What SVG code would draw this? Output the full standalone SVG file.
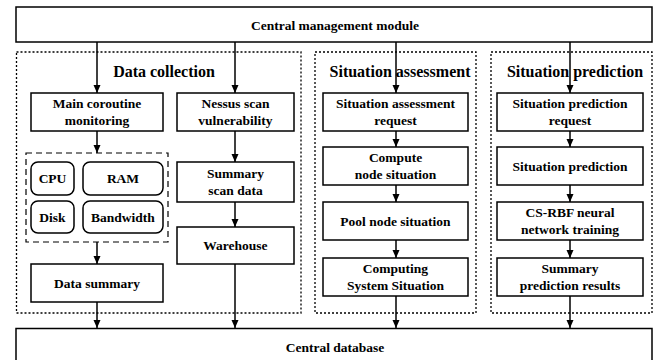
<svg xmlns="http://www.w3.org/2000/svg" width="654" height="360" viewBox="0 0 654 360">
<defs>
<marker id="ah" viewBox="0 0 8 8" refX="8" refY="4" markerWidth="8" markerHeight="8" markerUnits="userSpaceOnUse" orient="auto">
<path d="M0,0.5 L8,4 L0,7.5 Z" fill="#000"/>
</marker>
</defs>
<style>
text{font-family:"Liberation Serif","Times New Roman",serif;font-weight:bold;fill:#000;text-anchor:middle}
.t{font-size:13.5px}
.h{font-size:16px}
.b{fill:#fff;stroke:#000;stroke-width:1.5}
.r{fill:#fff;stroke:#000;stroke-width:1.5}
.dot{fill:none;stroke:#000;stroke-width:1.3;stroke-dasharray:2 2}
.dash{fill:none;stroke:#000;stroke-width:1.2;stroke-dasharray:6 4}
.c{stroke:#000;stroke-width:1.5;fill:none;marker-end:url(#ah)}
</style>
<rect width="654" height="360" fill="#fff"/>

<g id="groups">
<rect id="g-data" class="dot" x="16.5" y="52" width="284.5" height="261"/>
<rect id="g-assess" class="dot" x="315" y="52" width="161" height="261"/>
<rect id="g-pred" class="dot" x="491" y="52" width="161" height="261"/>
<text class="h" x="164" y="77">Data collection</text>
<text class="h" x="400" y="77">Situation assessment</text>
<text class="h" x="575" y="77">Situation prediction</text>
<rect id="g-res" class="dash" x="26" y="153" width="142" height="89"/>
</g>

<g id="top"><rect class="b" x="16" y="7" width="636" height="35"/><text class="t" x="335" y="30">Central management module</text></g>
<g id="db"><rect class="b" x="16" y="328.5" width="636" height="40"/><text class="t" x="335" y="352">Central database</text></g>

<g id="main"><rect class="b" x="31" y="93" width="132" height="38"/><text class="t" x="97" y="108">Main coroutine</text><text class="t" x="97" y="125">monitoring</text></g>
<g id="nessus"><rect class="b" x="177" y="93" width="117" height="38"/><text class="t" x="235.5" y="108">Nessus scan</text><text class="t" x="235.5" y="125">vulnerability</text></g>
<g id="cpu"><rect class="r" x="31" y="162" width="43" height="33" rx="7"/><text class="t" x="52.5" y="183">CPU</text></g>
<g id="ram"><rect class="r" x="83" y="162" width="80" height="33" rx="7"/><text class="t" x="123" y="183">RAM</text></g>
<g id="disk"><rect class="r" x="31" y="201" width="43" height="32" rx="7"/><text class="t" x="52.5" y="221.5">Disk</text></g>
<g id="bw"><rect class="r" x="83" y="201" width="80" height="32" rx="7"/><text class="t" x="123" y="221.5">Bandwidth</text></g>
<g id="sumscan"><rect class="b" x="177" y="162" width="117" height="40"/><text class="t" x="235.5" y="178">Summary</text><text class="t" x="235.5" y="195">scan data</text></g>
<g id="warehouse"><rect class="b" x="177" y="227" width="117" height="37"/><text class="t" x="235.5" y="250">Warehouse</text></g>
<g id="datasum"><rect class="b" x="31" y="264" width="132" height="38"/><text class="t" x="97" y="287.5">Data summary</text></g>

<g id="sareq"><rect class="b" x="323" y="93" width="145" height="38"/><text class="t" x="395.5" y="108">Situation assessment</text><text class="t" x="395.5" y="125">request</text></g>
<g id="compute"><rect class="b" x="323" y="147" width="145" height="38"/><text class="t" x="395.5" y="162">Compute</text><text class="t" x="395.5" y="179">node situation</text></g>
<g id="pool"><rect class="b" x="323" y="202" width="145" height="38"/><text class="t" x="395.5" y="225.5">Pool node situation</text></g>
<g id="css"><rect class="b" x="323" y="258" width="145" height="38"/><text class="t" x="395.5" y="273">Computing</text><text class="t" x="395.5" y="290">System Situation</text></g>

<g id="spreq"><rect class="b" x="497" y="93" width="146" height="38"/><text class="t" x="570" y="108">Situation prediction</text><text class="t" x="570" y="125">request</text></g>
<g id="sp"><rect class="b" x="497" y="147" width="146" height="38"/><text class="t" x="570" y="170.5">Situation prediction</text></g>
<g id="csrbf"><rect class="b" x="497" y="202" width="146" height="38"/><text class="t" x="570" y="217">CS-RBF neural</text><text class="t" x="570" y="234">network training</text></g>
<g id="spr"><rect class="b" x="497" y="258" width="146" height="38"/><text class="t" x="570" y="273">Summary</text><text class="t" x="570" y="290">prediction results</text></g>

<g id="connectors">
<path class="c" d="M97,42 V93"/>
<path class="c" d="M235,42 V93"/>
<path class="c" d="M396,42 V93"/>
<path class="c" d="M570,42 V93"/>
<path class="c" d="M97,131 V153"/>
<path class="c" d="M97,242 V264"/>
<path class="c" d="M97,302 V328"/>
<path class="c" d="M235,131 V162"/>
<path class="c" d="M235,202 V227"/>
<path class="c" d="M235,264 V328"/>
<path class="c" d="M396,131 V147"/>
<path class="c" d="M396,185 V202"/>
<path class="c" d="M396,240 V258"/>
<path class="c" d="M396,296 V328"/>
<path class="c" d="M570,131 V147"/>
<path class="c" d="M570,185 V202"/>
<path class="c" d="M570,240 V258"/>
<path class="c" d="M570,296 V328"/>
</g>
</svg>
